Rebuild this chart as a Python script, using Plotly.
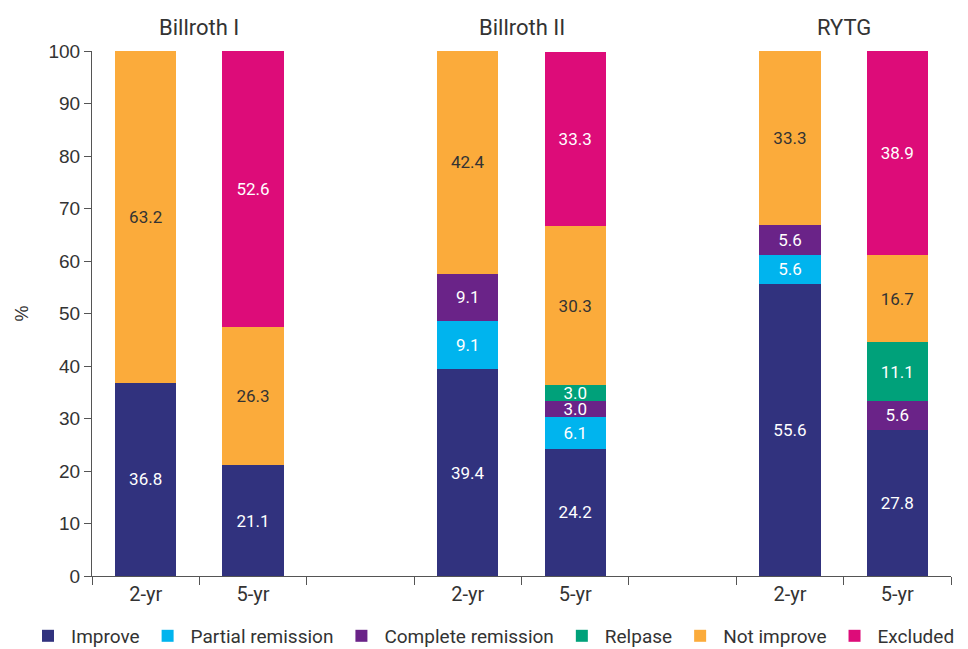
import plotly.graph_objects as go

slots = [0, 1, 3, 4, 6, 7]
tick_labels = ["2-yr", "5-yr", "2-yr", "5-yr", "2-yr", "5-yr"]
groups = ["Billroth I", "Billroth II", "RYTG"]
group_pos = [0.5, 3.5, 6.5]

series_names = ["Improve", "Partial remission", "Complete remission", "Relpase", "Not improve", "Excluded"]
improve = [36.8, 21.1, 39.4, 24.2, 55.6, 27.8]
partial = [None, None, 9.1, 6.1, 5.6, None]
complete = [None, None, 9.1, 3.0, 5.6, 5.6]
relapse = [None, None, None, 3.0, None, 11.1]
not_improve = [63.2, 26.3, 42.4, 30.3, 33.3, 16.7]
excluded = [None, 52.6, None, 33.3, None, 38.9]
series_values = [improve, partial, complete, relapse, not_improve, excluded]
colors = ["#31327e", "#00b4ee", "#6a2388", "#00a17a", "#fbab3b", "#dd0c79"]
text_colors = ["white", "white", "white", "white", "#333333", "white"]

fig = go.Figure()
for name, vals, col, tc in zip(series_names, series_values, colors, text_colors):
    fig.add_trace(go.Bar(
        x=slots, y=vals, name=name, marker=dict(color=col, line=dict(width=0)),
        width=0.57,
        text=[f"{v:.1f}" if v is not None else "" for v in vals],
        textposition="inside", insidetextanchor="middle", textangle=0,
        constraintext="none",
        textfont=dict(color=tc, size=17, family="Roboto"),
        hoverinfo="skip",
    ))

for g, p in zip(groups, group_pos):
    fig.add_annotation(x=p, y=1, xref="x", yref="paper", yanchor="bottom", yshift=9,
                       text=g, showarrow=False,
                       font=dict(size=22, family="Roboto", color="#333333"))

fig.update_layout(
    barmode="stack",
    width=968, height=649,
    margin=dict(l=92, r=17, t=51, b=73, autoexpand=False),
    plot_bgcolor="white", paper_bgcolor="white",
    showlegend=True,
    legend=dict(orientation="h", x=-0.078, xanchor="left",
                y=-0.078, yanchor="top",
                font=dict(size=19, family="Roboto", color="#333333"),
                traceorder="normal", itemwidth=36),
    xaxis=dict(
        range=[-0.5, 7.5], tickvals=slots, ticktext=tick_labels,
        ticks="", showline=True, linecolor="#555555", linewidth=1,
        showgrid=False, zeroline=False, automargin=False,
        tickfont=dict(size=20, family="Roboto", color="#333333"),
        minor=dict(tickvals=[-0.5, 0.5, 1.5, 2.5, 3.5, 4.5, 5.5, 6.5, 7.5],
                   ticks="outside", ticklen=8, tickcolor="#555555", showgrid=False),
    ),
    yaxis=dict(
        range=[0, 100], dtick=10, ticks="outside", ticklen=7, tickcolor="#555555",
        showline=True, linecolor="#555555", linewidth=1, showgrid=False, zeroline=False,
        automargin=False,
        tickfont=dict(size=19, family="Liberation Sans", color="#333333"),
        title=dict(text="%", font=dict(size=18, family="Liberation Sans", color="#333333"), standoff=15),
    ),
)

fig.write_html("out.html", config={"displayModeBar": False},
               post_script="document.body.style.margin='0';")
